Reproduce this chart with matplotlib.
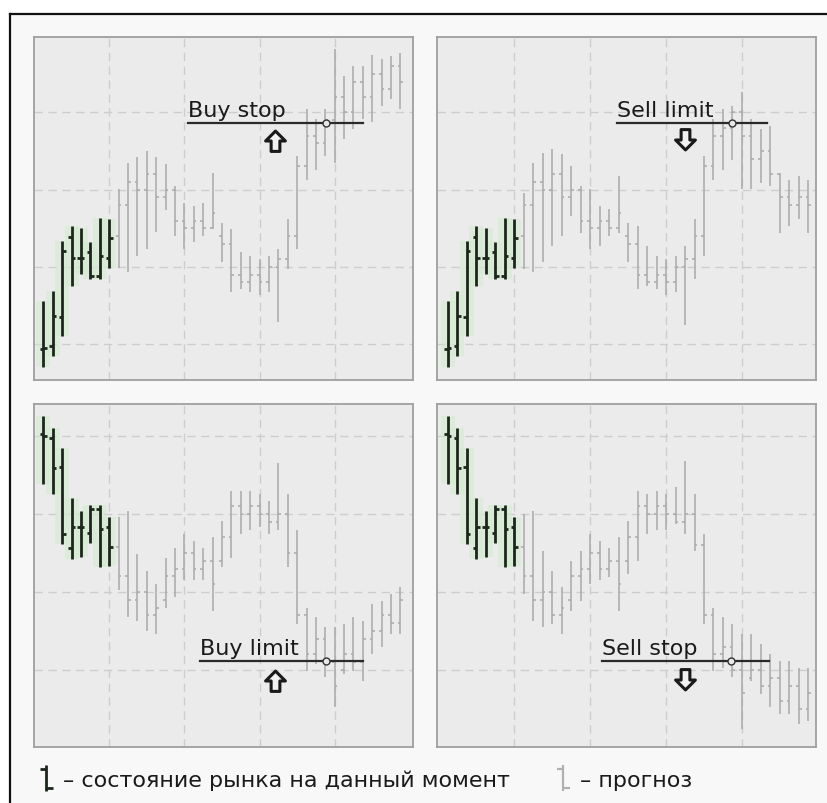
import numpy as np
import matplotlib
matplotlib.use('Agg')
import matplotlib.pyplot as plt
from matplotlib.path import Path
from matplotlib.lines import Line2D

# current market state (8 bars) - same in both panels of a row
now_top_open = [9.3, 9.8, 13.5, 23.9, 21.2, 21.9, 18.8, 21.2]
now_top_high = [15.6, 16.9, 23.4, 25.3, 25.0, 23.2, 26.3, 26.2]
now_top_low = [7.0, 8.5, 11.1, 17.5, 19.1, 18.4, 18.4, 19.9]
now_top_close = [9.5, 13.6, 22.1, 21.2, 21.2, 18.8, 21.4, 23.7]

now_bot_open = [40.2, 39.7, 36.0, 25.6, 28.3, 27.6, 30.7, 28.3]
now_bot_high = [42.5, 41.0, 38.4, 32.0, 30.4, 31.1, 31.1, 29.6]
now_bot_low = [33.9, 32.6, 26.1, 24.2, 24.5, 26.3, 23.2, 23.3]
now_bot_close = [40.0, 35.9, 27.4, 28.3, 28.3, 30.7, 28.1, 25.8]

# forecast bars (31 bars each)
buystop_high = [30.1, 33.5, 34.2, 35.0, 34.2, 33.3, 30.5, 28.3, 27.9, 28.3, 32.2, 25.7, 24.9, 21.9, 21.4, 21.0,
                21.4, 22.3, 26.2, 34.4, 40.4, 39.1, 40.4, 48.2, 44.7, 46.0, 46.0, 47.5, 46.9, 47.3, 47.7]
buystop_low = [19.9, 19.3, 21.4, 22.3, 24.5, 27.3, 24.0, 22.3, 23.2, 24.0, 24.9, 20.6, 16.7, 17.1, 16.7, 16.3,
               16.7, 12.8, 19.7, 22.3, 31.3, 32.6, 34.4, 33.5, 36.5, 37.8, 39.1, 38.7, 40.8, 41.7, 40.4]
buystop_open = [24, 28, 31, 30, 32, 29, 30, 26, 25, 26, 25, 24, 23, 19, 18, 19,
                18, 20, 21, 24, 33, 37, 36, 39, 42, 40, 44, 42, 45, 43, 46]
buystop_close = [28, 31, 30, 32, 29, 30, 26, 25, 26, 25, 27, 23, 19, 18, 19, 18,
                 20, 21, 24, 33, 37, 36, 39, 42, 40, 44, 42, 45, 43, 46, 44]

selllimit_high = [29.6, 33.5, 34.8, 35.2, 34.6, 33.1, 30.5, 30.1, 27.9, 27.5, 31.8, 25.7, 25.3, 22.7, 21.4, 21.0,
                  21.4, 22.7, 26.2, 34.4, 39.1, 40.4, 40.8, 42.6, 39.1, 37.8, 38.2, 32.2, 31.3, 31.8, 31.3]
selllimit_low = [19.7, 19.3, 20.6, 22.7, 24.0, 26.6, 24.4, 22.3, 22.7, 24.0, 24.4, 20.6, 17.1, 17.5, 17.1, 16.3,
                 16.7, 12.4, 18.4, 21.4, 31.3, 32.6, 33.9, 30.1, 30.1, 30.9, 30.5, 24.4, 25.3, 26.2, 24.4]
selllimit_open = [24, 28, 31, 30, 32, 29, 30, 26, 25, 26, 25, 24, 23, 19, 18, 19,
                  18, 20, 21, 24, 33, 37, 38, 40, 37, 34, 35, 32, 29, 28, 29]
selllimit_close = [28, 31, 30, 32, 29, 30, 26, 25, 26, 25, 27, 23, 19, 18, 19, 18,
                   20, 21, 24, 33, 37, 38, 40, 37, 34, 35, 32, 29, 28, 29, 28]

buylimit_high = [29.6, 30.4, 24.9, 22.7, 21.0, 24.4, 25.7, 27.4, 26.6, 25.7, 27.0, 29.1, 33.0, 33.0, 33.0, 32.6,
                 31.7, 36.6, 32.6, 27.9, 18.0, 16.8, 15.5, 15.5, 15.9, 16.8, 16.3, 18.5, 18.9, 19.7, 20.6]
buylimit_low = [20.2, 16.8, 16.3, 15.0, 14.6, 18.0, 19.3, 21.5, 21.5, 21.5, 17.6, 23.2, 24.4, 27.4, 27.9, 28.3,
                27.4, 27.9, 23.2, 15.9, 9.9, 10.8, 9.1, 5.2, 9.5, 9.9, 8.6, 12.0, 12.9, 14.6, 14.6]
buylimit_open = [25.8, 22, 19, 20, 17, 19, 22, 23, 25, 23, 24, 24, 27, 31, 30, 31,
                 30, 29, 30, 25, 17, 12, 14, 11, 10, 12, 11, 14, 15, 17, 16]
buylimit_close = [22, 19, 20, 17, 18, 22, 23, 25, 23, 24, 21, 27, 31, 30, 31, 30,
                  29, 30, 25, 17, 12, 14, 11, 8, 12, 11, 14, 15, 17, 16, 19]

sellstop_high = [30.0, 30.4, 25.3, 22.7, 20.6, 24.0, 25.3, 27.4, 26.6, 25.7, 27.0, 29.1, 33.0, 32.6, 33.0, 32.6,
                 33.4, 36.8, 32.6, 27.4, 18.0, 16.8, 15.9, 14.6, 14.6, 13.3, 12.0, 11.2, 11.2, 10.3, 10.3]
sellstop_low = [19.7, 16.3, 15.5, 15.9, 14.6, 17.6, 18.9, 21.0, 21.5, 21.9, 17.6, 22.3, 24.0, 27.4, 27.9, 27.9,
                28.7, 27.4, 25.3, 15.9, 9.9, 10.3, 9.1, 2.4, 8.6, 6.9, 5.2, 4.4, 4.4, 3.1, 3.5]
sellstop_open = [25.8, 22, 19, 20, 17, 19, 22, 23, 25, 23, 24, 24, 27, 31, 30, 31,
                 30, 29, 30, 26, 17, 12, 13, 10, 9, 10, 8, 9, 6, 8, 5]
sellstop_close = [22, 19, 20, 17, 18, 22, 23, 25, 23, 24, 21, 27, 31, 30, 31, 30,
                  29, 30, 26, 17, 12, 13, 10, 7, 10, 8, 9, 6, 8, 5, 7]

# pending orders: label, price level, line start/end bar, trigger bar
order_labels = ['Buy stop', 'Sell limit', 'Buy limit', 'Sell stop']
order_levels = [38.6, 38.6, 11.1, 11.1]
order_start = [15.4, 17.8, 16.7, 16.3]
order_end = [34.0, 33.6, 34.0, 33.8]
order_hit = [30.1, 29.9, 30.1, 29.8]

legend_labels = ['– состояние рынка на данный момент', '– прогноз']

DARK = '#1c261c'
GREY = '#a9a9a9'
W, H = 828, 804

fig = plt.figure(figsize=(W / 100, H / 100), dpi=100)
fig.patch.set_facecolor('white')

# sunken outer frame
fig.add_artist(plt.Rectangle((9.5 / W, 0), 1, 1 - 14.5 / H, transform=fig.transFigure,
                             facecolor='#f8f8f8', edgecolor='none', zorder=-5))
fig.add_artist(Line2D([9.5 / W, 1], [1 - 14.5 / H] * 2, transform=fig.transFigure, color='#111111', lw=1.6))
fig.add_artist(Line2D([9.5 / W] * 2, [0, 1 - 14.5 / H], transform=fig.transFigure, color='#111111', lw=1.6))


def ohlc(ax, x, o, h, l, c, color, lw, tick=0.38, zorder=3):
    x = np.asarray(x, dtype=float)
    ax.vlines(x, l, h, colors=color, linewidth=lw, zorder=zorder)
    ax.hlines(o, x - tick, x, colors=color, linewidth=lw, zorder=zorder)
    ax.hlines(c, x, x + tick, colors=color, linewidth=lw, zorder=zorder)


# arrow marker shapes
up_arrow = Path([(0, 1), (0.95, 0.05), (0.42, 0.05), (0.42, -0.95), (-0.42, -0.95),
                 (-0.42, 0.05), (-0.95, 0.05), (0, 1)], closed=True)
down_arrow = Path([(0, -1), (0.95, -0.05), (0.42, -0.05), (0.42, 0.95), (-0.42, 0.95),
                   (-0.42, -0.05), (-0.95, -0.05), (0, -1)], closed=True)

panels = [
    # rect, xlim, ylim, now, forecast, arrow, arrow pos
    ([34, 38], (-0.99, 39.33), (5.34, 49.77),
     (now_top_open, now_top_high, now_top_low, now_top_close),
     (buystop_open, buystop_high, buystop_low, buystop_close), up_arrow, (24.6, 36.3)),
    ([437, 38], (-1.13, 38.8), (5.34, 49.77),
     (now_top_open, now_top_high, now_top_low, now_top_close),
     (selllimit_open, selllimit_high, selllimit_low, selllimit_close), down_arrow, (25.0, 36.5)),
    ([34, 405], (-0.99, 39.33), (0.13, 44.1),
     (now_bot_open, now_bot_high, now_bot_low, now_bot_close),
     (buylimit_open, buylimit_high, buylimit_low, buylimit_close), up_arrow, (24.6, 8.6)),
    ([437, 405], (-1.13, 38.8), (0.13, 44.1),
     (now_bot_open, now_bot_high, now_bot_low, now_bot_close),
     (sellstop_open, sellstop_high, sellstop_low, sellstop_close), down_arrow, (25.0, 8.8)),
]

for i, (corner, xl, yl, now, fc, arrow, apos) in enumerate(panels):
    ax = fig.add_axes([corner[0] / W, 1 - (corner[1] + 343) / H, 379 / W, 343 / H])
    ax.set_facecolor('#ebebeb')
    ax.set_xlim(*xl)
    ax.set_ylim(*yl)
    ax.set_xticks([7, 15, 23, 31])
    ax.set_yticks([10, 20, 30, 40])
    ax.tick_params(length=0, labelbottom=False, labelleft=False)
    ax.grid(True, color='#cdcdcd', linestyle=(0, (6, 4)), linewidth=1.0)
    ax.set_axisbelow(True)
    for s in ax.spines.values():
        s.set_color('#9f9f9f')
        s.set_linewidth(1.3)

    xn = np.arange(len(now[0]))
    xf = np.arange(len(now[0]), len(now[0]) + len(fc[0]))

    # soft green glow behind current bars
    ax.vlines(xn, now[2], now[1], colors='#d3ebcf', linewidth=10, alpha=0.55, zorder=1)
    ohlc(ax, xf, *fc, color=GREY, lw=1.1, tick=0.28, zorder=2)
    ohlc(ax, xn, *now, color=DARK, lw=2.0, zorder=3)

    lvl = order_levels[i]
    ax.plot([order_start[i], order_end[i]], [lvl, lvl], color='#2a2a2a', lw=1.6, zorder=5)
    ax.plot([order_hit[i]], [lvl], marker='o', ms=5, mfc='#e8e8e8', mec='#333333', mew=1.0, zorder=6)
    ax.annotate(order_labels[i], xy=(order_start[i], lvl), xytext=(0, 7), textcoords='offset pixels',
                ha='left', va='baseline', fontsize=16, color='#1a1a1a', zorder=6)
    ax.plot([apos[0]], [apos[1]], marker=arrow, ms=15, mfc='#f2f2f2', mec='#1a1a1a', mew=2.2, zorder=6)

# legend icons: a single OHLC bar
bar_icon = Path([(0, -1), (0, 1), (-0.45, 0.72), (0, 0.72), (0, -0.72), (0.5, -0.72)],
                [Path.MOVETO, Path.LINETO, Path.MOVETO, Path.LINETO, Path.MOVETO, Path.LINETO])
handles = [Line2D([], [], linestyle='none', marker=bar_icon, ms=19, mfc='none', mec=DARK, mew=2.0),
           Line2D([], [], linestyle='none', marker=bar_icon, ms=19, mfc='none', mec='#b0b0b0', mew=1.6)]
fig.legend(handles, legend_labels, loc='center left', bbox_to_anchor=(35 / W, 1 - 781 / H),
           ncol=2, frameon=False, fontsize=16, handlelength=1.0, handletextpad=0.25,
           columnspacing=1.9, borderpad=0, borderaxespad=0, labelcolor='#1a1a1a')

fig.savefig('out.png', dpi=100, facecolor=fig.get_facecolor())
